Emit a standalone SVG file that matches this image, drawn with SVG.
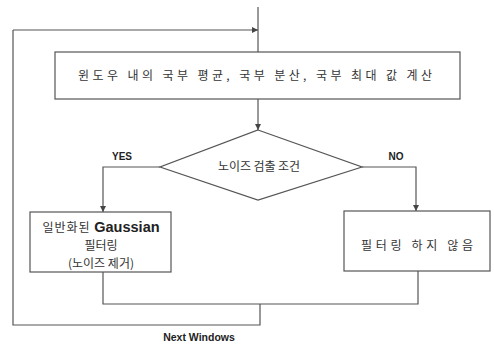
<svg xmlns="http://www.w3.org/2000/svg" width="494" height="345" viewBox="0 0 494 345">
<style>
.ln{fill:none;stroke:#555;stroke-width:1.2}
.bx{fill:#fff;stroke:#555;stroke-width:1.2}
.kr{font-family:"Noto Sans CJK KR","Noto Sans",sans-serif;font-size:12px;fill:#333}
.en{font-family:"Liberation Sans",Arial,sans-serif;font-weight:bold;fill:#222}
</style>
<defs>
<marker id="ar" viewBox="0 0 8 8" refX="8" refY="4" markerWidth="6" markerHeight="6" orient="auto" markerUnits="userSpaceOnUse">
<path d="M0,0 L8,4 L0,8 Z" fill="#444"/>
</marker>
</defs>
<rect width="494" height="345" fill="#fff"/>
<g id="connectors">
<path class="ln" d="M258,7 V52"/>
<path class="ln" d="M13,30 H258" marker-end="url(#ar)"/>
<path class="ln" d="M13,30 V325 H260 V304"/>
<path class="ln" d="M258,99 V130" marker-end="url(#ar)"/>
<path class="ln" d="M160,167 H103 V212" marker-end="url(#ar)"/>
<path class="ln" d="M362,167 H416 V211" marker-end="url(#ar)"/>
<path class="ln" d="M103,272 V304 H418 V271"/>
</g>
<g id="n1">
<rect class="bx" x="55" y="52" width="405" height="47"/>
<text class="kr" x="255" y="80" text-anchor="middle" textLength="354" lengthAdjust="spacing">윈도우 내의 국부 평균, 국부 분산, 국부 최대 값 계산</text>
</g>
<g id="n2">
<polygon class="bx" points="258,130 362,167 258,200 160,167"/>
<text class="kr" x="259" y="171" text-anchor="middle" textLength="82" lengthAdjust="spacing">노이즈 검출 조건</text>
</g>
<g id="lbl">
<text class="en" x="122" y="160" font-size="10" text-anchor="middle">YES</text>
<text class="en" x="396" y="160" font-size="10" text-anchor="middle">NO</text>
<text class="en" x="199" y="341" font-size="10.5" text-anchor="middle">Next Windows</text>
</g>
<g id="n3">
<rect class="bx" x="30" y="212" width="141" height="60"/>
<text x="101" y="232" text-anchor="middle"><tspan class="kr" font-size="13" letter-spacing="1">일반화된 </tspan><tspan class="en" font-size="14.5">Gaussian</tspan></text>
<text class="kr" x="101" y="250" text-anchor="middle" font-size="12.5">필터링</text>
<text class="kr" x="101" y="268" text-anchor="middle">(노이즈 제거)</text>
</g>
<g id="n4">
<rect class="bx" x="344" y="211" width="146" height="60"/>
<text class="kr" x="417" y="250" text-anchor="middle" textLength="112" lengthAdjust="spacing">필터링 하지 않음</text>
</g>
</svg>
